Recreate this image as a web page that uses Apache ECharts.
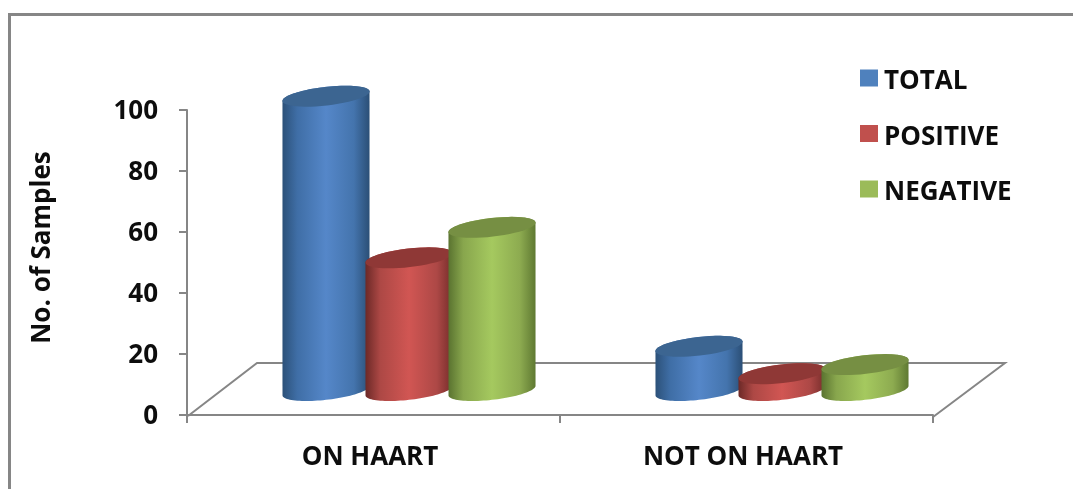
<!DOCTYPE html>
<html>
<head>
<meta charset="utf-8">
<style>html,body{margin:0;padding:0;background:#fff}#chart{width:1073px;height:489px}</style>
<script src="https://cdn.jsdelivr.net/npm/echarts@6/dist/echarts.min.js"></script>
</head>
<body>
<div id="chart"></div>
<script>
// HAART sample counts
const categories = ['ON HAART', 'NOT ON HAART'];
const total = [96, 14];
const positive = [43, 5];
const negative = [53, 8];
const yTicks = [0, 20, 40, 60, 80, 100];

const FONT = '"Open Sans", "Noto Sans", sans-serif';
const AXIS_GREY = '#868686';

// Depth of the floor plane on screen; columns stand at its middle.
const DEPTH_X = 71, DEPTH_Y = 52;
const BASE_DROP = 1.5;
const RX = 43.8, RY = 9.3, TILT = -6.5 * Math.PI / 180;
const COLUMN_STEP = 83;

const looks = {
  TOTAL:    { flat: '#4f81bd', top: '#3c6591', stops: ['#2c5179', '#3f6ea6', '#5587c9', '#4474ad', '#2b4f76'] },
  POSITIVE: { flat: '#c0504d', top: '#8f3836', stops: ['#6c2927', '#ad4845', '#d15653', '#ad4846', '#752c2a'] },
  NEGATIVE: { flat: '#9bbb59', top: '#768f43', stops: ['#5a7330', '#88a64d', '#a5c95f', '#8dab50', '#5f7932'] }
};

function ellipsePoint(cx, cy, t) {
  return [
    cx + RX * Math.cos(t) * Math.cos(TILT) - RY * Math.sin(t) * Math.sin(TILT),
    cy + RX * Math.cos(t) * Math.sin(TILT) + RY * Math.sin(t) * Math.cos(TILT)
  ];
}

function arc(cx, cy, from, to) {
  const pts = [];
  for (let i = 0; i <= 48; i++) pts.push(ellipsePoint(cx, cy, from + (to - from) * i / 48));
  return pts;
}

function cylinderRenderer(name, slot) {
  const look = looks[name];
  return function (params, api) {
    const base = api.coord([api.value(0), 0]);
    const head = api.coord([api.value(0), api.value(1)]);
    const cx = base[0] + DEPTH_X / 2 + slot * COLUMN_STEP;
    const yBase = base[1] - DEPTH_Y / 2 + BASE_DROP;
    const yTop = head[1] - DEPTH_Y / 2;
    const t0 = Math.atan2(-RY * Math.sin(TILT), RX * Math.cos(TILT));
    const body = arc(cx, yBase, t0, t0 + Math.PI).concat(arc(cx, yTop, t0 + Math.PI, t0 + 2 * Math.PI));
    const offsets = [0, 0.17, 0.5, 0.82, 1];
    return {
      type: 'group',
      children: [
        {
          type: 'polygon',
          shape: { points: body },
          style: {
            fill: {
              type: 'linear', x: 0, y: 0, x2: 1, y2: 0,
              colorStops: look.stops.map((c, i) => ({ offset: offsets[i], color: c }))
            }
          }
        },
        {
          type: 'polygon',
          shape: { points: arc(cx, yTop, 0, 2 * Math.PI) },
          style: { fill: look.top }
        }
      ]
    };
  };
}

function cylinderSeries(name, values, slot) {
  return {
    name: name,
    type: 'custom',
    coordinateSystem: 'cartesian2d',
    itemStyle: { color: looks[name].flat },
    encode: { x: 0, y: 1 },
    data: values.map((v, i) => [i, v]),
    renderItem: cylinderRenderer(name, slot),
    clip: false,
    z: 10 + slot
  };
}

const floorSeries = {
  type: 'custom',
  coordinateSystem: 'cartesian2d',
  silent: true,
  data: [[0, 0]],
  clip: false,
  z: 1,
  renderItem: function (params) {
    const g = params.coordSys;
    const y0 = g.y + g.height;
    const x1 = g.x + g.width;
    return {
      type: 'polyline',
      shape: { points: [[g.x + 1, y0 + 1], [g.x + 70, y0 - DEPTH_Y], [x1 + 72, y0 - DEPTH_Y], [x1, y0 + 2]] },
      style: { fill: null, stroke: AXIS_GREY, lineWidth: 2 }
    };
  }
};

const labelStyle = { color: '#0d0d0d', fontFamily: FONT, fontWeight: 'bold' };
const nudged = Object.assign({ fontSize: 26, padding: [4, 0, 0, 0] }, labelStyle);
const legendText = Object.assign({ fontSize: 26, lineHeight: 26, height: 26, padding: [8, 0, 0, 1] }, labelStyle);

const chart = echarts.init(document.getElementById('chart'), null, { renderer: 'canvas' });
chart.setOption({
  animation: false,
  backgroundColor: '#ffffff',
  grid: { left: 187, top: 110, width: 746, height: 305 },
  graphic: [
    {
      type: 'polyline',
      shape: { points: [[9.5, 489], [9.5, 14.5], [1073, 14.5]] },
      style: { fill: null, stroke: AXIS_GREY, lineWidth: 3 },
      silent: true
    }
  ],
  legend: {
    left: 855,
    top: 56,
    orient: 'vertical',
    itemWidth: 18,
    itemHeight: 17,
    itemGap: 21.5,
    icon: 'rect',
    data: ['TOTAL', 'POSITIVE', 'NEGATIVE'],
    formatter: '{a|{name}}',
    textStyle: Object.assign({ fontSize: 26, rich: { a: legendText } }, labelStyle)
  },
  xAxis: {
    type: 'category',
    data: categories,
    offset: 2,
    axisLine: { lineStyle: { color: AXIS_GREY, width: 2 } },
    axisTick: { show: true, length: 8, lineStyle: { color: AXIS_GREY, width: 2 } },
    axisLabel: Object.assign({ fontSize: 26, margin: 28, interval: 0, padding: [0, 7, 0, 0] }, labelStyle)
  },
  yAxis: {
    type: 'value',
    min: 0,
    max: 100,
    interval: 20,
    name: 'No. of Samples',
    nameLocation: 'middle',
    nameGap: 131,
    nameRotate: 90,
    nameTextStyle: Object.assign({ fontSize: 26, padding: [0, 0, 0, 30] }, labelStyle),
    axisLine: { show: true, lineStyle: { color: AXIS_GREY, width: 2 } },
    axisTick: { show: true, length: 8, lineStyle: { color: AXIS_GREY, width: 2 } },
    splitLine: { show: false },
    axisLabel: Object.assign({
      fontSize: 26, margin: 29,
      formatter: v => (yTicks.includes(v) ? '{a|' + v + '}' : ''),
      rich: { a: nudged }
    }, labelStyle)
  },
  series: [
    floorSeries,
    cylinderSeries('TOTAL', total, -1),
    cylinderSeries('POSITIVE', positive, 0),
    cylinderSeries('NEGATIVE', negative, 1)
  ]
});
</script>
</body>
</html>
